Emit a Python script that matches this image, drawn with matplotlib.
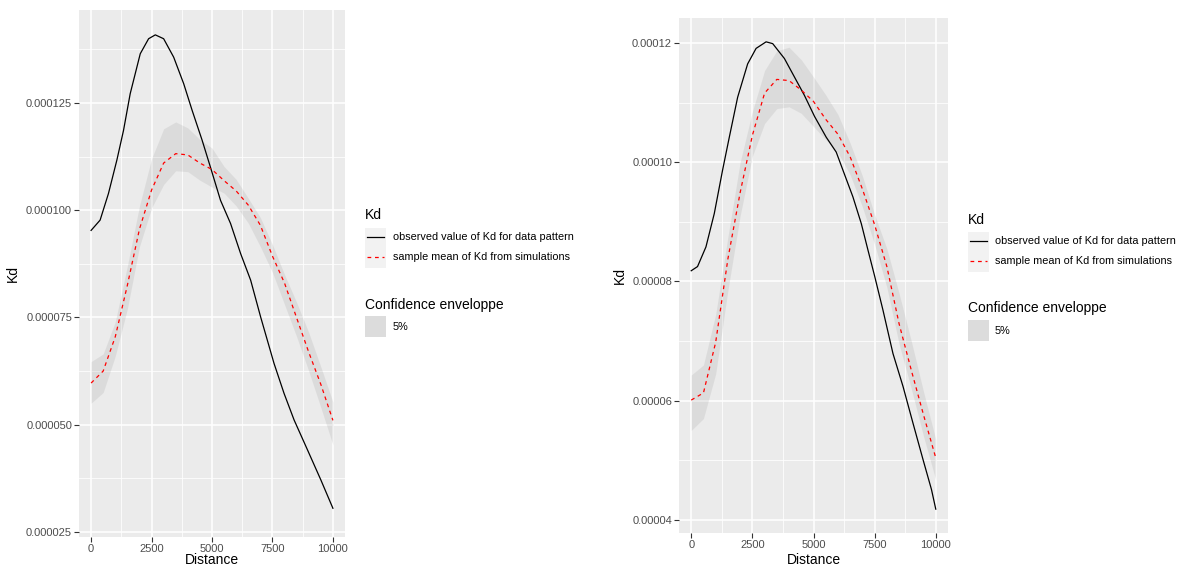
import matplotlib
matplotlib.use("Agg")
import matplotlib.pyplot as plt
from matplotlib.lines import Line2D
from matplotlib.patches import Rectangle
from matplotlib.ticker import FixedLocator, FixedFormatter

# ---------------- data (values in 1e-6) ----------------
grid = [0, 500, 1000, 1500, 2000, 2500, 3000, 3500, 4000, 4500, 5000,
        5500, 6000, 6500, 7000, 7500, 8000, 8500, 9000, 9500, 10000]

# left panel
left_obs_d = [0, 373, 718, 1066, 1340, 1618, 2033, 2378, 2656, 3000, 3415, 3830, 4178,
              4593, 4938, 5353, 5768, 6183, 6598, 7012, 7564, 7979, 8394, 8950, 9502, 10000]
left_obs_v = [95.3, 97.7, 103.9, 111.7, 118.6, 127.2, 136.5, 140.0, 140.9, 140.0, 135.7, 129.5, 123.3,
              116.3, 110.0, 102.3, 96.9, 89.9, 83.7, 75.1, 64.3, 57.3, 51.1, 44.1, 37.1, 30.5]
left_mean = [59.7, 62.5, 70.5, 82.5, 95.6, 104.7, 111.0, 113.2, 112.9, 111.0, 109.5,
             106.9, 104.5, 101.2, 96.5, 89.3, 83.0, 74.9, 66.9, 59.4, 51.0]
left_hi = [64.7, 66.5, 74.0, 87.0, 101.0, 112.0, 119.0, 120.6, 119.2, 116.5, 114.5,
           110.2, 107.2, 102.8, 98.3, 92.0, 85.0, 78.5, 71.5, 63.5, 55.3]
left_lo = [55.0, 57.5, 66.0, 77.0, 91.5, 100.5, 106.0, 109.2, 109.0, 107.0, 105.4,
           104.0, 101.0, 97.0, 91.5, 85.5, 78.0, 70.5, 62.5, 54.0, 45.3]

# right panel
right_obs_d = [0, 258, 602, 943, 1283, 1557, 1898, 2307, 2652, 3061, 3332, 3811, 4221, 4631,
               5041, 5520, 5930, 6201, 6611, 6955, 7225, 7500, 7840, 8250, 8660, 9070, 9480,
               9824, 10000]
right_obs_v = [81.8, 82.5, 85.8, 91.4, 98.7, 104.2, 110.9, 116.5, 119.1, 120.2, 119.9, 117.4, 114.3,
               111.2, 107.7, 104.2, 101.7, 98.7, 94.2, 89.7, 85.3, 80.9, 75.2, 67.9, 62.4, 56.2, 50.1,
               45.1, 41.8]
right_mean = [60.1, 61.3, 69.8, 83.8, 94.9, 104.5, 111.6, 113.9, 113.7, 112.1, 110.2,
              107.2, 104.7, 100.9, 95.5, 89.5, 82.5, 72.9, 65.1, 57.6, 50.4]
right_hi = [64.3, 66.0, 74.5, 87.5, 100.0, 108.5, 115.4, 118.7, 119.3, 117.2, 114.3,
            111.3, 108.0, 103.2, 97.7, 91.2, 85.5, 78.0, 70.0, 61.5, 53.5]
right_lo = [55.0, 57.0, 64.5, 78.5, 91.0, 101.0, 106.5, 109.0, 109.3, 108.2, 106.0,
            103.8, 101.6, 97.9, 92.5, 86.2, 79.0, 69.5, 62.0, 54.0, 46.7]

x_ticks = [0, 2500, 5000, 7500, 10000]
left_y_ticks = [25e-6, 50e-6, 75e-6, 100e-6, 125e-6]
left_y_labels = ["0.000025", "0.000050", "0.000075", "0.000100", "0.000125"]
right_y_ticks = [40e-6, 60e-6, 80e-6, 100e-6, 120e-6]
right_y_labels = ["0.00004", "0.00006", "0.00008", "0.00010", "0.00012"]

legend_title = "Kd"
legend_labels = ["observed value of Kd for data pattern", "sample mean of Kd from simulations"]
fill_title = "Confidence enveloppe"
fill_label = "5%"

# ---------------- figure ----------------
W, H = 1187, 567
plt.rcParams['font.family'] = ['Liberation Sans', 'DejaVu Sans']
fig = plt.figure(figsize=(W / 100, H / 100), dpi=100)


def fx(px):
    return px / W


def fy(py):
    return 1 - py / H


def s(v):
    return [a * 1e-6 for a in v]


BG = '#EBEBEB'
TICKC = '#4D4D4D'


def panel(rect, obs_d, obs_v, mean, lo, hi, ylim, yt, ylab, xlabpad):
    x0, y0, x1, y1 = rect
    ax = fig.add_axes([fx(x0), fy(y1), fx(x1) - fx(x0), fy(y0) - fy(y1)])
    ax.set_facecolor(BG)
    for sp in ax.spines.values():
        sp.set_visible(False)
    ax.set_xlim(-500, 10500)
    ax.set_ylim(*ylim)
    ax.xaxis.set_major_locator(FixedLocator(x_ticks))
    ax.xaxis.set_major_formatter(FixedFormatter([str(t) for t in x_ticks]))
    ax.xaxis.set_minor_locator(FixedLocator([1250, 3750, 6250, 8750]))
    ax.yaxis.set_major_locator(FixedLocator(yt))
    ax.yaxis.set_major_formatter(FixedFormatter(ylab))
    step = yt[1] - yt[0]
    minors = [yt[0] - step / 2] + [t + step / 2 for t in yt]
    ax.yaxis.set_minor_locator(FixedLocator(minors))
    ax.grid(which='major', color='white', lw=1.1)
    ax.grid(which='minor', color='white', lw=0.55)
    ax.set_axisbelow(True)
    ax.tick_params(which='major', length=3.5, width=0.8, color='#333333',
                   labelcolor=TICKC, labelsize=8, pad=1.5)
    ax.tick_params(which='minor', length=0)
    ax.fill_between(grid, s(lo), s(hi), color='#808080', alpha=0.14, lw=0)
    ax.plot(obs_d, s(obs_v), color='black', lw=0.9)
    ax.plot(grid, s(mean), color='red', lw=0.9, dashes=(3, 3))
    ax.set_xlabel("Distance", fontsize=10, labelpad=xlabpad)
    ax.set_ylabel("Kd", fontsize=10, labelpad=4)
    return ax


panel((79, 10, 345, 537), left_obs_d, left_obs_v, left_mean, left_lo, left_hi,
      (23.8e-6, 146.7e-6), left_y_ticks, left_y_labels, -1)
panel((679, 18, 948, 533), right_obs_d, right_obs_v, right_mean, right_lo, right_hi,
      (37.8e-6, 124.2e-6), right_y_ticks, right_y_labels, 2.5)


def legend(kx, title_y, key_top, text_x, fill_title_y, fill_top):
    fig.text(fx(kx), fy(title_y), legend_title, fontsize=10, va='center', ha='left')
    kw = 21
    for i, lab in enumerate(legend_labels):
        top = key_top + i * 20
        fig.add_artist(Rectangle((fx(kx), fy(top + 20)), kw / W, 20 / H,
                                 transform=fig.transFigure, facecolor='#F2F2F2', lw=0))
        yc = fy(top + 9)
        if i == 0:
            fig.add_artist(Line2D([fx(kx + 2), fx(kx + kw - 2)], [yc, yc],
                                  transform=fig.transFigure, color='black', lw=0.9))
        else:
            fig.add_artist(Line2D([fx(kx + 2), fx(kx + kw - 2)], [yc, yc],
                                  transform=fig.transFigure, color='red', lw=0.9,
                                  dashes=(3, 3)))
        fig.text(fx(text_x), yc, lab, fontsize=7.8, va='center', ha='left')
    fig.text(fx(kx), fy(fill_title_y), fill_title, fontsize=10, va='center', ha='left')
    fig.add_artist(Rectangle((fx(kx), fy(fill_top + 21)), kw / W, 21 / H,
                             transform=fig.transFigure, facecolor='#DCDCDC', lw=0))
    fig.text(fx(text_x), fy(fill_top + 11), fill_label, fontsize=7.8, va='center', ha='left')


legend(365, 215, 228, 393, 305, 316)
legend(968, 220, 232, 995, 308, 320)

fig.savefig("out.png", dpi=100, facecolor='white')
